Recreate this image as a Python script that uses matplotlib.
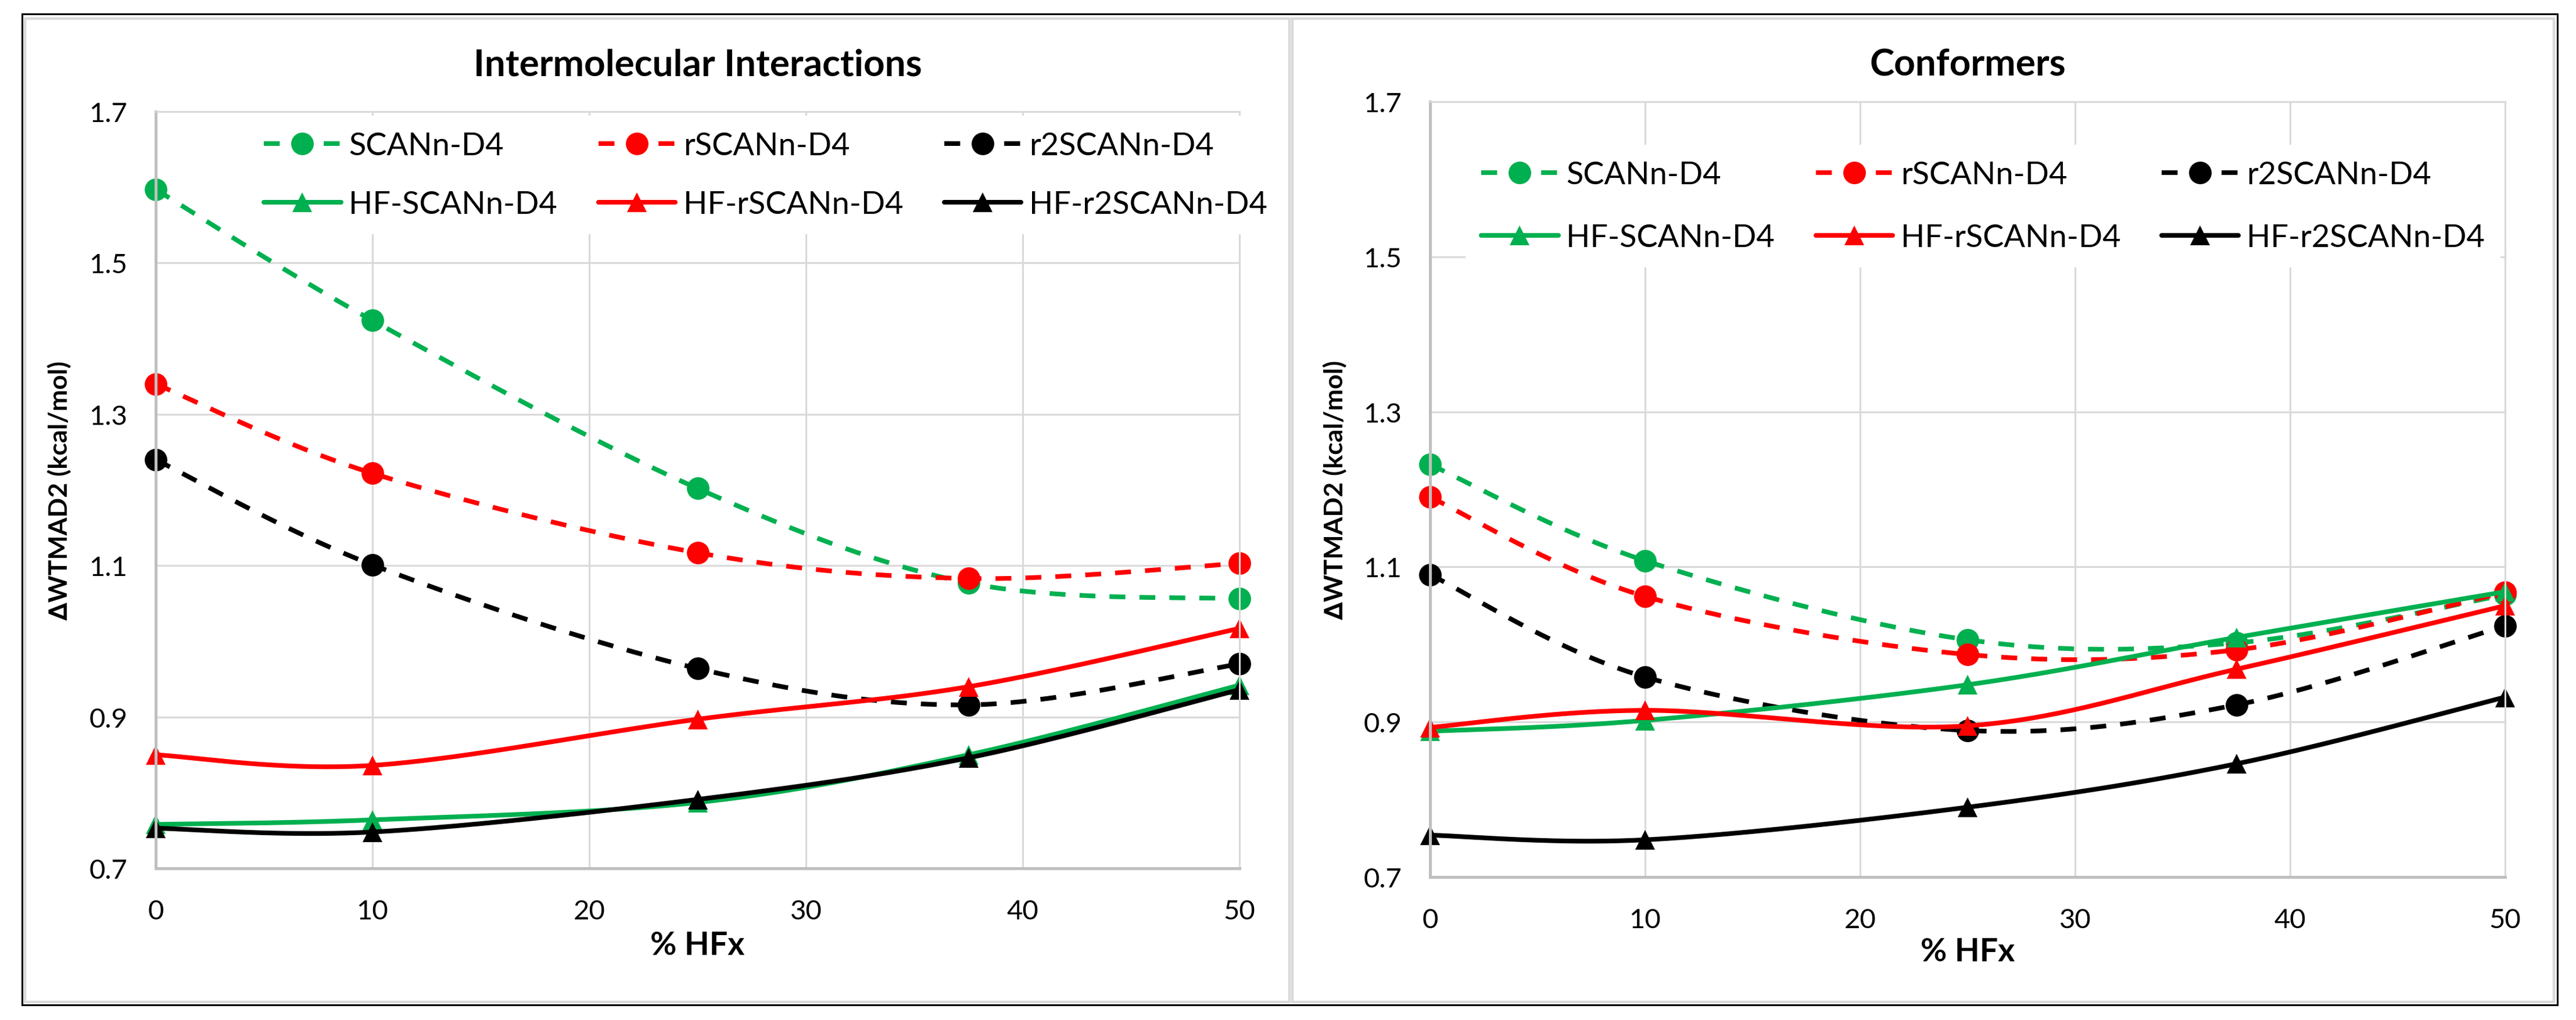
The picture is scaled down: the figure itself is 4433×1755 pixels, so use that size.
import numpy as np
import matplotlib
matplotlib.use('Agg')
import matplotlib.pyplot as plt
from matplotlib.patches import Rectangle

plt.rcParams['font.family'] = ['Lato', 'DejaVu Sans']

# ---------------- data ----------------
hfx = [0, 10, 25, 37.5, 50]
series_names = ['SCANn-D4', 'rSCANn-D4', 'r2SCANn-D4',
                'HF-SCANn-D4', 'HF-rSCANn-D4', 'HF-r2SCANn-D4']

inter_scan = [1.597, 1.424, 1.202, 1.077, 1.056]
inter_rscan = [1.340, 1.222, 1.117, 1.083, 1.103]
inter_r2scan = [1.240, 1.101, 0.964, 0.916, 0.970]
inter_hf_scan = [0.758, 0.764, 0.787, 0.850, 0.942]
inter_hf_rscan = [0.850, 0.836, 0.897, 0.940, 1.017]
inter_hf_r2scan = [0.753, 0.748, 0.791, 0.846, 0.936]

conf_scan = [1.232, 1.108, 1.006, 1.002, 1.064]
conf_rscan = [1.190, 1.062, 0.987, 0.993, 1.067]
conf_r2scan = [1.090, 0.958, 0.889, 0.922, 1.024]
conf_hf_scan = [0.888, 0.902, 0.948, 1.009, 1.068]
conf_hf_rscan = [0.893, 0.915, 0.895, 0.968, 1.050]
conf_hf_r2scan = [0.754, 0.748, 0.790, 0.846, 0.932]

x_ticks = [0, 10, 20, 30, 40, 50]
y_ticks = [0.7, 0.9, 1.1, 1.3, 1.5, 1.7]

panel_titles = ['Intermolecular Interactions', 'Conformers']
x_label = '% HFx'
y_label = '\u2206WTMAD2 (kcal/mol)'

# ---------------- styles ----------------
GREEN = '#00B050'
RED = '#FF0000'
BLACK = '#000000'
colors = [GREEN, RED, BLACK, GREEN, RED, BLACK]
markers = ['o', 'o', 'o', '^', '^', '^']
dashed = [True, True, True, False, False, False]

W, H = 4433, 1756
fig = plt.figure(figsize=(W / 100, H / 100), dpi=100)


def fx(px):
    return px / W


def fy(py):
    return 1 - py / H


def smooth(x, y, n=40):
    """Excel-like smoothed line (Catmull-Rom Bezier through the points)."""
    pts = np.column_stack([x, y]).astype(float)
    P = np.vstack([pts[0], pts, pts[-1]])
    out = [pts[0]]
    idx = [0]
    t = np.linspace(0, 1, n + 1)[1:]
    for i in range(len(pts) - 1):
        p0, p1, p2, p3 = P[i], P[i + 1], P[i + 2], P[i + 3]
        c1 = p1 + (p2 - p0) / 6
        c2 = p2 - (p3 - p1) / 6
        seg = (((1 - t) ** 3)[:, None] * p1 + (3 * (1 - t) ** 2 * t)[:, None] * c1
               + (3 * (1 - t) * t ** 2)[:, None] * c2 + (t ** 3)[:, None] * p2)
        out.extend(seg)
        idx.append(len(out) - 1)
    out = np.array(out)
    return out[:, 0], out[:, 1], idx


# ---------------- frames ----------------
fig.patches.append(Rectangle((fx(38), fy(1730)), fx(4401 - 38), (1730 - 25) / H,
                             transform=fig.transFigure, fill=False,
                             edgecolor='black', lw=2.2, zorder=0))
fig.patches.append(Rectangle((fx(43), fy(1725)), fx(2219 - 43), (1725 - 33) / H,
                             transform=fig.transFigure, fill=False,
                             edgecolor='#D9D9D9', lw=3.2, zorder=0))
fig.patches.append(Rectangle((fx(2224), fy(1725)), fx(4395 - 2224), (1725 - 33) / H,
                             transform=fig.transFigure, fill=False,
                             edgecolor='#D9D9D9', lw=3.2, zorder=0))

panels = [
    dict(data=[inter_scan, inter_rscan, inter_r2scan, inter_hf_scan, inter_hf_rscan, inter_hf_r2scan],
         x0=268, x1=2133, ytop=193, ybot=1495, title_y=112, xlab_y=1627, ylab_x=102,
         leg_x=427, leg_y=200, labelspacing=0.95),
    dict(data=[conf_scan, conf_rscan, conf_r2scan, conf_hf_scan, conf_hf_rscan, conf_hf_r2scan],
         x0=2461, x1=4311, ytop=176, ybot=1510, title_y=112, xlab_y=1638, ylab_x=2297,
         leg_x=2522, leg_y=250, labelspacing=1.08),
]

for p, title in zip(panels, panel_titles):
    ax = fig.add_axes([fx(p['x0']), fy(p['ybot']), fx(p['x1'] - p['x0']),
                       (p['ybot'] - p['ytop']) / H])
    ax.set_xlim(0, 50)
    ax.set_ylim(0.7, 1.7)
    ax.set_xticks(x_ticks)
    ax.set_xticklabels([str(v) for v in x_ticks])
    ax.set_yticks(y_ticks)
    ax.set_yticklabels(['%.1f' % v for v in y_ticks])
    ax.grid(True, color='#D9D9D9', lw=2.2)
    ax.set_axisbelow(True)
    for s in ['left', 'bottom']:
        ax.spines[s].set_color('#BFBFBF')
        ax.spines[s].set_linewidth(3.6)
    for s in ['top', 'right']:
        ax.spines[s].set_color('#D9D9D9')
        ax.spines[s].set_linewidth(2.2)
    ax.tick_params(axis='both', length=0, labelsize=34)
    ax.tick_params(axis='y', pad=35)
    ax.tick_params(axis='x', pad=38)

    handles = []
    for vals, name, c, m, d in zip(p['data'], series_names, colors, markers, dashed):
        xs, ys, idx = smooth(hfx, vals)
        ln, = ax.plot(xs, ys, color=c, lw=5.8, marker=m,
                      markersize=28 if m == 'o' else 25, markevery=idx,
                      markeredgewidth=0, clip_on=False,
                      dash_capstyle='butt', solid_capstyle='round',
                      label=name)
        if d:
            ln.set_dashes((3.4, 3.0))
        handles.append(ln)

    order = [0, 3, 1, 4, 2, 5]
    leg = ax.legend([handles[i] for i in order], [series_names[i] for i in order],
                    ncol=3, loc='upper left',
                    bbox_to_anchor=(fx(p['leg_x']), fy(p['leg_y'])),
                    bbox_transform=fig.transFigure, frameon=True, fancybox=False,
                    edgecolor='none', facecolor='white', framealpha=1,
                    fontsize=39, handlelength=2.45, handletextpad=0.25,
                    columnspacing=1.3, labelspacing=p['labelspacing'],
                    borderpad=0.5, borderaxespad=0, numpoints=1)
    leg.set_zorder(5)

    cx = fx((p['x0'] + p['x1']) / 2)
    fig.text(cx, fy(p['title_y']), title, ha='center', va='center',
             fontsize=46, fontweight='bold')
    fig.text(cx, fy(p['xlab_y']), x_label, ha='center', va='center',
             fontsize=40, fontweight='bold')
    fig.text(fx(p['ylab_x']), fy((p['ytop'] + p['ybot']) / 2), y_label,
             ha='center', va='center', rotation=90, fontsize=32, fontweight='bold')

fig.savefig('out.png', dpi=100, facecolor='white')
